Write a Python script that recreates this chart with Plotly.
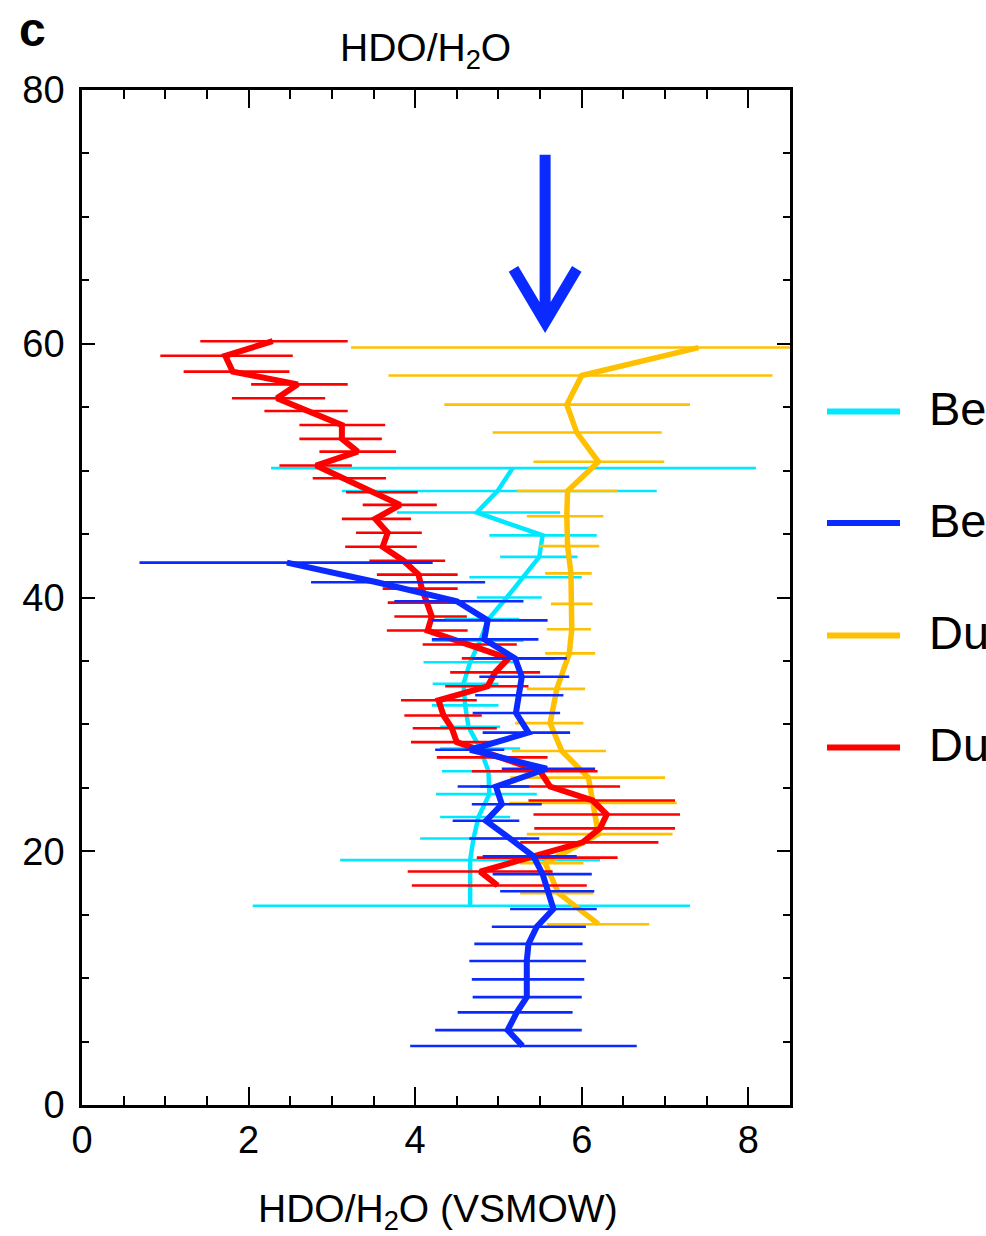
import plotly.graph_objects as go

# ---- profile data: altitude (km) vs HDO/H2O (VSMOW) with asymmetric ranges ----
series_names = ["Before GDS, north", "Before GDS, south", "During GDS, north", "During GDS, south"]
series_colors = ["#00e8ff", "#0a2aff", "#ffc000", "#ff0000"]

cyan_alt = [50.2, 48.4, 46.7, 44.9, 43.2, 41.6, 40.0, 38.3, 36.6, 34.9, 33.2, 31.5, 29.8, 28.1,
            26.3, 24.5, 22.7, 21.0, 19.3, 15.7]
cyan_val = [5.17, 4.99, 4.74, 5.53, 5.49, 5.30, 5.10, 4.88, 4.78, 4.66, 4.58, 4.60, 4.64, 4.78,
            4.88, 4.89, 4.76, 4.70, 4.66, 4.66]
cyan_lo = [2.27, 3.12, 3.78, 4.89, 5.02, 4.65, 4.74, 4.35, 4.20, 4.10, 4.21, 4.20, 4.30, 4.30,
           4.32, 4.25, 4.30, 4.06, 3.10, 2.05]
cyan_hi = [8.09, 6.90, 5.74, 6.18, 5.95, 6.00, 5.52, 5.25, 5.30, 5.20, 5.00, 5.00, 5.02, 5.26,
           5.44, 5.46, 5.14, 5.34, 6.22, 7.30]

blue_alt = [42.75, 41.2, 39.7, 38.2, 36.7, 35.2, 33.75, 32.3, 30.9, 29.35, 28.0, 26.5, 25.1, 23.7,
            22.4, 21.0, 19.6, 18.2, 16.85, 15.45, 14.05, 12.7, 11.35, 9.9, 8.5, 7.3, 5.9, 4.65]
blue_val = [2.46, 3.54, 4.50, 4.87, 4.83, 5.20, 5.28, 5.25, 5.21, 5.36, 4.66, 5.58, 4.97, 5.04,
            4.85, 5.14, 5.42, 5.53, 5.60, 5.66, 5.46, 5.36, 5.34, 5.34, 5.34, 5.22, 5.11, 5.29]
blue_lo = [0.69, 2.75, 3.75, 4.20, 4.20, 4.69, 4.77, 4.72, 4.69, 4.81, 4.24, 5.04, 4.51, 4.68,
           4.45, 4.65, 4.81, 4.93, 5.02, 5.14, 4.92, 4.71, 4.65, 4.68, 4.69, 4.51, 4.24, 3.94]
blue_hi = [4.21, 4.84, 5.30, 5.59, 5.48, 5.82, 5.85, 5.78, 5.74, 5.86, 5.07, 6.16, 5.37, 5.52,
           5.25, 5.49, 5.94, 6.12, 6.15, 6.18, 6.05, 6.01, 6.05, 6.03, 6.00, 5.89, 6.00, 6.66]

orange_alt = [59.7, 57.5, 55.2, 53.0, 50.7, 48.4, 46.4, 44.05, 41.9, 39.5, 37.5, 35.6, 32.8, 30.1,
              27.9, 25.8, 23.8, 21.35, 19.05, 16.7, 14.25]
orange_val = [7.40, 6.00, 5.82, 5.94, 6.20, 5.83, 5.82, 5.83, 5.87, 5.88, 5.88, 5.85, 5.70, 5.62,
              5.76, 6.08, 6.14, 6.20, 5.56, 5.72, 6.20]
orange_lo = [3.23, 3.68, 4.35, 4.93, 5.42, 5.22, 5.34, 5.49, 5.56, 5.63, 5.58, 5.56, 5.34, 5.20,
             5.16, 5.14, 5.13, 5.34, 5.26, 5.26, 5.58]
orange_hi = [11.6, 8.29, 7.30, 6.96, 6.99, 6.43, 6.26, 6.21, 6.12, 6.13, 6.11, 6.16, 6.04, 6.02,
             6.29, 7.00, 7.14, 7.09, 6.02, 6.14, 6.81]

red_alt = [60.2, 59.05, 57.8, 56.8, 55.7, 54.7, 53.6, 52.5, 51.5, 50.4, 49.4, 48.3, 47.3, 46.2,
           45.1, 44.0, 42.9, 41.8, 40.7, 39.6, 38.5, 37.4, 36.3, 35.2, 34.1, 33.0, 31.9, 30.7,
           29.7, 28.6, 27.4, 26.3, 25.1, 24.0, 22.9, 21.8, 20.7, 19.5, 18.4, 17.3]
red_val = [2.29, 1.72, 1.81, 2.59, 2.34, 2.70, 3.12, 3.12, 3.31, 2.81, 3.15, 3.49, 3.82, 3.52,
           3.67, 3.61, 3.86, 4.04, 4.08, 4.14, 4.20, 4.15, 4.63, 5.12, 4.96, 4.87, 4.28, 4.34,
           4.44, 4.50, 5.02, 5.50, 5.62, 6.13, 6.30, 6.22, 6.01, 5.34, 4.78, 4.99]
red_lo = [1.42, 0.94, 1.22, 2.03, 1.80, 2.19, 2.61, 2.61, 2.85, 2.37, 2.77, 3.17, 3.37, 3.12,
          3.29, 3.16, 3.45, 3.54, 3.61, 3.67, 3.75, 3.66, 4.09, 4.56, 4.42, 4.36, 3.83, 3.87,
          3.97, 3.95, 4.26, 4.68, 4.78, 5.36, 5.42, 5.43, 5.26, 4.74, 3.91, 3.96]
red_hi = [3.19, 2.53, 2.49, 3.19, 2.92, 3.19, 3.64, 3.60, 3.77, 3.24, 3.65, 4.03, 4.26, 3.95,
          4.08, 4.02, 4.36, 4.51, 4.51, 4.60, 4.62, 4.63, 5.22, 5.68, 5.50, 5.36, 4.74, 4.80,
          4.98, 5.02, 5.59, 6.19, 6.46, 7.12, 7.18, 7.12, 6.92, 6.43, 5.65, 6.06]

x_tick_vals = [0, 2, 4, 6, 8]
y_tick_vals = [0, 20, 40, 60, 80]

FONT = "Liberation Sans, Arial, Helvetica, sans-serif"

# figure geometry (pixels)
W, H = 986, 1236
PL, PR, PT, PB = 82, 790, 90, 1105


def px_x(p):
    return (p - PL) / (PR - PL)


def px_y(p):
    return (PB - p) / (PB - PT)


fig = go.Figure()

# drawing order: cyan, orange, red, blue (blue ends on top)
profiles = [
    (0, cyan_alt, cyan_val, cyan_lo, cyan_hi, 4.5),
    (2, orange_alt, orange_val, orange_lo, orange_hi, 5.5),
    (3, red_alt, red_val, red_lo, red_hi, 6),
    (1, blue_alt, blue_val, blue_lo, blue_hi, 6),
]
for idx, alt, val, lo, hi, lw in profiles:
    fig.add_trace(go.Scatter(
        x=val, y=alt, mode="lines", name=series_names[idx],
        line=dict(color=series_colors[idx], width=lw),
        error_x=dict(type="data", symmetric=False,
                     array=[h - v for h, v in zip(hi, val)],
                     arrayminus=[v - l for v, l in zip(val, lo)],
                     color=series_colors[idx], thickness=2.6, width=0),
        showlegend=False, cliponaxis=True,
    ))

axis_common = dict(
    showline=True, linecolor="black", linewidth=2.5, mirror="allticks",
    ticks="inside", tickcolor="black", tickwidth=2,
    showgrid=False, zeroline=False,
    tickfont=dict(family=FONT, size=38, color="black"),
)

fig.update_xaxes(
    range=[0, 8.5], tickvals=x_tick_vals, ticklen=18,
    minor=dict(dtick=0.5, ticks="inside", ticklen=9, tickwidth=2, tickcolor="black"),
    ticklabelstandoff=0,
    **axis_common,
)
fig.update_yaxes(
    range=[0, 80], tickvals=y_tick_vals, ticklen=13,
    minor=dict(dtick=5, ticks="inside", ticklen=7, tickwidth=2, tickcolor="black"),
    ticklabelstandoff=7,
    **axis_common,
)

annotations = [
    dict(text="<b>c</b>", x=px_x(17), y=px_y(29), xref="paper", yref="paper",
         xanchor="left", yanchor="middle", showarrow=False,
         font=dict(family=FONT, size=48, color="black")),
    dict(text="HDO/H<sub>2</sub>O", x=px_x(425), y=px_y(51), xref="paper", yref="paper",
         xanchor="center", yanchor="middle", showarrow=False,
         font=dict(family=FONT, size=39, color="black")),
    dict(text="HDO/H<sub>2</sub>O (VSMOW)", x=px_x(438), y=px_y(1211), xref="paper", yref="paper",
         xanchor="center", yanchor="middle", showarrow=False,
         font=dict(family=FONT, size=39, color="black")),
]

shapes = []
# legend, drawn by hand on the right-hand side
legend_rows = [411.5, 523, 635.5, 747.5]
for i, row in enumerate(legend_rows):
    shapes.append(dict(type="line", xref="paper", yref="paper",
                       x0=px_x(827), x1=px_x(900), y0=px_y(row), y1=px_y(row),
                       line=dict(color=series_colors[i], width=6)))
    annotations.append(dict(text=series_names[i], x=px_x(927), y=px_y(row - 3),
                            xref="paper", yref="paper", xanchor="left", yanchor="middle",
                            showarrow=False, font=dict(family=FONT, size=47, color="black")))

# downward arrow marking the storm onset level
arrow_x, arrow_top, arrow_tip, arm_dx, arm_y = 5.56, 74.9, 61.7, 0.38, 65.9
shapes.append(dict(
    type="path", xref="x", yref="y",
    path=(f"M {arrow_x},{arrow_top} L {arrow_x},{arrow_tip + 0.4} "
          f"M {arrow_x - arm_dx},{arm_y} L {arrow_x},{arrow_tip} L {arrow_x + arm_dx},{arm_y}"),
    line=dict(color="#0a2aff", width=11),
))

fig.update_layout(
    width=W, height=H,
    margin=dict(l=PL, r=W - PR, t=PT, b=H - PB, pad=0),
    paper_bgcolor="white", plot_bgcolor="white",
    showlegend=False,
    annotations=annotations, shapes=shapes,
    font=dict(family=FONT, color="black"),
)

fig.write_html("out.html")
